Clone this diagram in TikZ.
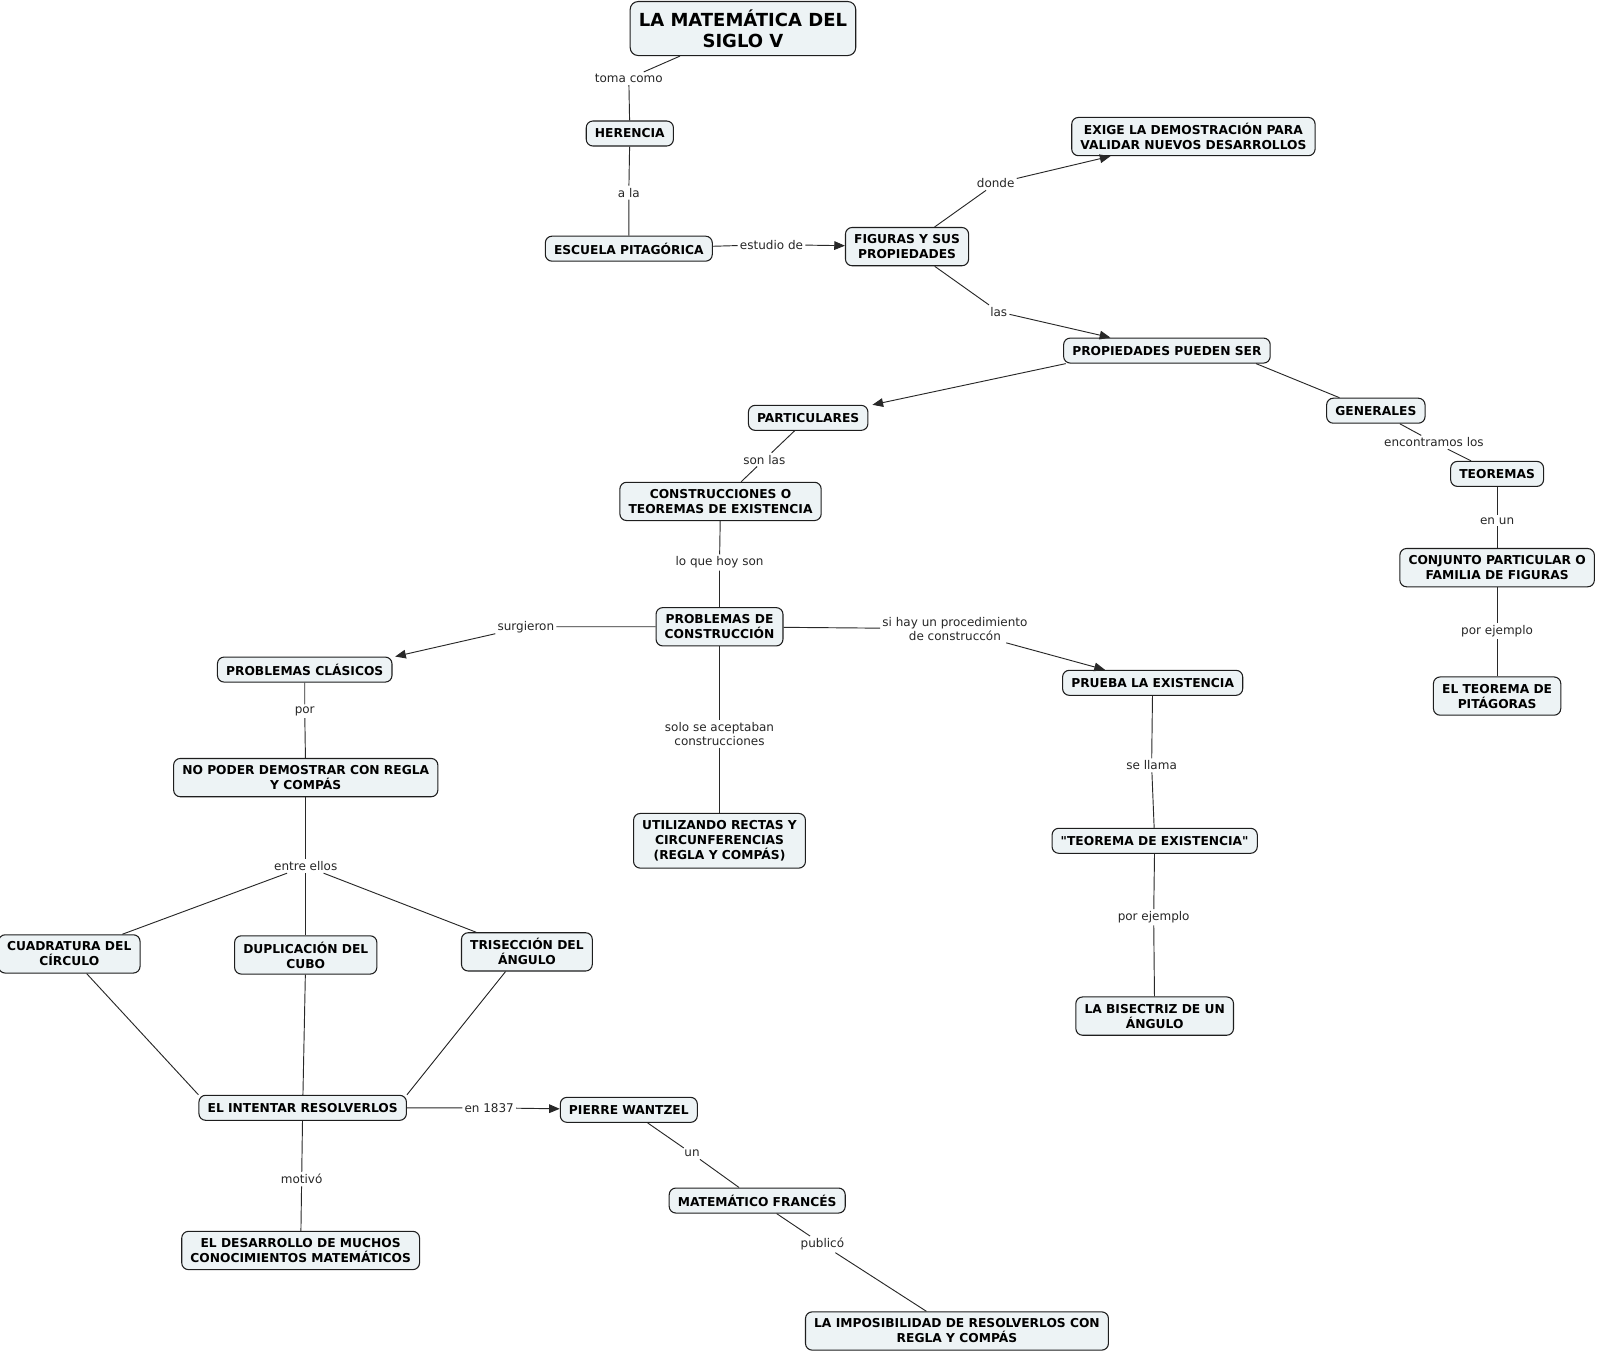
\documentclass[tikz,border=0pt]{standalone}
\usepackage{fontspec}
\setmainfont{DejaVu Sans}
\usetikzlibrary{arrows.meta}
\definecolor{boxfill}{RGB}{237,243,245}
\definecolor{boxline}{RGB}{30,30,30}
\definecolor{linecol}{RGB}{40,40,40}
\newcommand\sqq{\XeTeXglyph\XeTeXcharglyph"22\relax}
\begin{document}
\begin{tikzpicture}[x=0.7643pt,y=-0.7643pt,
 cbox/.style={draw=boxline, fill=boxfill, rounded corners=5pt, line width=0.8pt, align=center,
   font=\fontsize{9.2pt}{11.25pt}\selectfont\bfseries, inner xsep=6.5pt, inner ysep=2pt, minimum height=18.75pt},
 two/.style={minimum height=28.7pt},
 three/.style={minimum height=41pt},
 titlebox/.style={cbox, rounded corners=6pt, font=\fontsize{13.5pt}{15.75pt}\selectfont\bfseries, minimum height=40.5pt},
 lbl/.style={font=\fontsize{9pt}{10.7pt}\selectfont, align=center, inner sep=1.5pt, text=black!85},
 conn/.style={draw=linecol, line width=0.7pt},
 arr/.style={conn, -{Triangle[length=8pt,width=6.5pt]}},
]
\useasboundingbox (0,0) rectangle (1568,1327.6);

% concepts
\node[titlebox] (title) at (729,28) {LA MATEMÁTICA DEL\\SIGLO V};
\node[cbox] (her) at (618,131) {HERENCIA};
\node[cbox] (esc) at (617,244) {ESCUELA PITAGÓRICA};
\node[cbox,two] (fig) at (890,242) {FIGURAS Y SUS\\PROPIEDADES};
\node[cbox,two] (exi) at (1171,134) {EXIGE LA DEMOSTRACIÓN PARA\\VALIDAR NUEVOS DESARROLLOS};
\node[cbox] (pro) at (1145,344) {PROPIEDADES PUEDEN SER};
\node[cbox] (par) at (793,410) {PARTICULARES};
\node[cbox] (gen) at (1350,403) {GENERALES};
\node[cbox] (teo) at (1469,465) {TEOREMAS};
\node[cbox,two] (con) at (1469,557) {CONJUNTO PARTICULAR O\\FAMILIA DE FIGURAS};
\node[cbox,two] (pit) at (1469,683) {EL TEOREMA DE\\PITÁGORAS};
\node[cbox,two] (cons) at (707,492) {CONSTRUCCIONES O\\TEOREMAS DE EXISTENCIA};
\node[cbox,two] (pdc) at (706,615) {PROBLEMAS DE\\CONSTRUCCIÓN};
\node[cbox] (pcl) at (299,657) {PROBLEMAS CLÁSICOS};
\node[cbox,two] (npd) at (300,763) {NO PODER DEMOSTRAR CON REGLA\\Y COMPÁS};
\node[cbox,three] (utl) at (706,825) {UTILIZANDO RECTAS Y\\CIRCUNFERENCIAS\\(REGLA Y COMPÁS)};
\node[cbox] (pru) at (1131,670) {PRUEBA LA EXISTENCIA};
\node[cbox] (tde) at (1133,825) {\sqq TEOREMA DE EXISTENCIA\sqq};
\node[cbox,two] (bis) at (1133,997) {LA BISECTRIZ DE UN\\ÁNGULO};
\node[cbox,two] (cua) at (68,936) {CUADRATURA DEL\\CÍRCULO};
\node[cbox,two] (dup) at (300,937) {DUPLICACIÓN DEL\\CUBO};
\node[cbox,two] (tri) at (517,934) {TRISECCIÓN DEL\\ÁNGULO};
\node[cbox] (ein) at (297,1087) {EL INTENTAR RESOLVERLOS};
\node[cbox] (pie) at (617,1089) {PIERRE WANTZEL};
\node[cbox] (mat) at (743,1178) {MATEMÁTICO FRANCÉS};
\node[cbox,two] (des) at (295,1227) {EL DESARROLLO DE MUCHOS\\CONOCIMIENTOS MATEMÁTICOS};
\node[cbox,two] (imp) at (939,1306) {LA IMPOSIBILIDAD DE RESOLVERLOS CON\\REGLA Y COMPÁS};

% linking phrases
\node[lbl] (l1) at (617,77) {toma como};
\node[lbl] (l2) at (617,189) {a la};
\node[lbl] (l3) at (757,240) {estudio de};
\node[lbl] (l4) at (977,180) {donde};
\node[lbl] (l5) at (980,306) {las};
\node[lbl] (l6) at (750,451) {son las};
\node[lbl] (l7) at (1407,434) {encontramos los};
\node[lbl] (l8) at (1469,511) {en un};
\node[lbl] (l9) at (1469,619) {por ejemplo};
\node[lbl] (l10) at (706,552) {lo que hoy son};
\node[lbl] (l11) at (516,615) {surgieron};
\node[lbl] (l12) at (937,617) {si hay un procedimiento\\de construccón};
\node[lbl] (l13) at (299,698) {por};
\node[lbl] (l14) at (706,720) {solo se aceptaban\\construcciones};
\node[lbl] (l15) at (1130,751) {se llama};
\node[lbl] (l16) at (1132,900) {por ejemplo};
\node[lbl] (l17) at (300,850) {entre ellos};
\node[lbl] (l18) at (480,1087) {en 1837};
\node[lbl] (l19) at (679,1132) {un};
\node[lbl] (l20) at (296,1157) {motivó};
\node[lbl] (l21) at (807,1221) {publicó};

% connectors
\draw[conn] (title) -- (l1) -- (her);
\draw[conn] (her) -- (l2) -- (esc);
\draw[arr] (esc) -- (l3) -- (fig);
\draw[arr] (fig) -- (l4) -- (exi);
\draw[arr] (fig) -- (l5) -- (pro);
\draw[arr] ([xshift=2pt]pro.south west) -- ([xshift=3pt]par.north east);
\draw[conn] ([xshift=-11pt]pro.south east) -- ([xshift=10pt]gen.north west);
\draw[conn] (par) -- (l6) -- (cons);
\draw[conn] (gen) -- (l7) -- (teo);
\draw[conn] (teo) -- (l8) -- (con);
\draw[conn] (con) -- (l9) -- (pit);
\draw[conn] (cons) -- (l10) -- (pdc);
\draw[arr] (pdc) -- (l11) -- ([xshift=2pt]pcl.north east);
\draw[arr] (pdc) -- (l12) -- (pru);
\draw[conn] (pdc) -- (l14) -- (utl);
\draw[conn] (pcl) -- (l13) -- (npd);
\draw[conn] (npd) -- (l17);
\draw[conn] (l17) -- (cua);
\draw[conn] (l17) -- (dup);
\draw[conn] (l17) -- (tri);
\draw[conn] ([xshift=13pt]cua.south) -- (ein.north west);
\draw[conn] (dup) -- (ein);
\draw[conn] ([xshift=-16pt]tri.south) -- (ein.north east);
\draw[arr] (ein) -- (l18) -- (pie);
\draw[conn] (ein) -- (l20) -- (des);
\draw[conn] (pie) -- (l19) -- (mat);
\draw[conn] (mat) -- (l21) -- (imp);
\draw[conn] (pru) -- (l15) -- (tde);
\draw[conn] (tde) -- (l16) -- (bis);
\end{tikzpicture}
\end{document}
